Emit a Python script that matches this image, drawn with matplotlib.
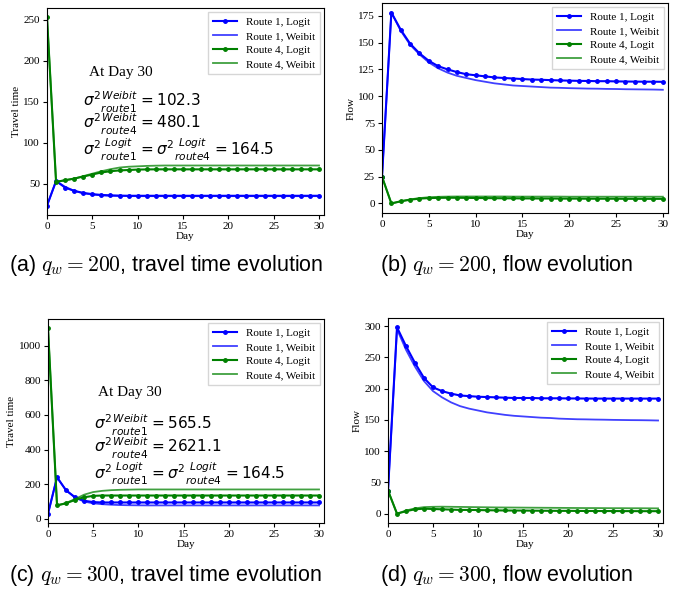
import matplotlib
matplotlib.use('Agg')
from matplotlib import pyplot as plt

days = list(range(31))

# (a) q_w = 200, travel time
tt200_r1_logit = [23, 53, 45, 41, 38.5, 37, 36, 35.5, 35.2, 35, 35, 35, 35, 35, 35, 35,
                  35, 35, 35, 35, 35, 35, 35, 35, 35, 35, 35, 35, 35, 35, 35]
tt200_r1_weibit = [23, 53, 46, 41, 38, 36.5, 35.5, 35, 34.8, 34.6, 34.5, 34.5, 34.5, 34.5, 34.5, 34.5,
                   34.5, 34.5, 34.5, 34.5, 34.5, 34.5, 34.5, 34.5, 34.5, 34.5, 34.5, 34.5, 34.5, 34.5, 34.5]
tt200_r4_logit = [253, 52, 54, 56, 58.5, 61, 63.5, 65, 66, 66.5, 67, 67.2, 67.3, 67.3, 67.3, 67.3,
                  67.3, 67.3, 67.3, 67.3, 67.3, 67.3, 67.3, 67.3, 67.3, 67.3, 67.3, 67.3, 67.3, 67.3, 67.3]
tt200_r4_weibit = [253, 52, 54, 56, 59, 62, 65, 67.5, 69.5, 70.5, 71, 71.5, 71.8, 72, 72, 72,
                   72, 72, 72, 72, 72, 72, 72, 72, 72, 72, 72, 72, 72, 72, 72]

# (b) q_w = 200, flow
fl200_r1_logit = [25, 178, 162, 149, 140, 133, 128, 125, 122.5, 120.5, 119.5, 118.5, 117.5, 117, 116.5, 116,
                  115.5, 115.3, 115, 114.7, 114.5, 114.3, 114.2, 114, 114, 113.8, 113.7, 113.6, 113.5, 113.5, 113.4]
fl200_r1_weibit = [25, 178, 161, 148, 139, 131.5, 126, 122, 119, 117, 115, 113.5, 112, 111, 110, 109.5,
                   109, 108.5, 108, 107.8, 107.5, 107.3, 107.1, 107, 106.8, 106.7, 106.5, 106.4, 106.3, 106.2, 106]
fl200_r4_logit = [25, 0, 2, 3.5, 4.5, 5, 5.2, 5.3, 5.3, 5.2, 5.1, 5, 4.9, 4.8, 4.8, 4.7,
                  4.7, 4.6, 4.6, 4.5, 4.5, 4.5, 4.4, 4.4, 4.4, 4.4, 4.3, 4.3, 4.3, 4.3, 4.3]
fl200_r4_weibit = [25, 0, 2, 3.8, 5, 5.8, 6.2, 6.4, 6.5, 6.5, 6.5, 6.5, 6.5, 6.5, 6.4, 6.4,
                   6.4, 6.4, 6.4, 6.4, 6.3, 6.3, 6.3, 6.3, 6.3, 6.3, 6.3, 6.3, 6.3, 6.3, 6.3]

# (c) q_w = 300, travel time
tt300_r1_logit = [30, 240, 165, 125, 105, 97, 95, 95, 95, 95, 95, 95, 95, 95, 95, 95,
                  95, 95, 95, 95, 95, 95, 95, 95, 95, 95, 95, 95, 95, 95, 95]
tt300_r1_weibit = [30, 240, 165, 122, 100, 90, 85, 82, 80, 79, 78.5, 78, 78, 78, 78, 78,
                   78, 78, 78, 78, 78, 78, 78, 78, 78, 78, 78, 78, 78, 78, 78]
tt300_r4_logit = [1100, 78, 90, 110, 125, 133, 135, 135, 135, 135, 135, 135, 135, 135, 135, 135,
                  135, 135, 135, 135, 135, 135, 135, 135, 135, 135, 135, 135, 135, 135, 135]
tt300_r4_weibit = [1100, 78, 92, 115, 140, 155, 162, 166, 168, 169, 170, 170, 170, 170, 170, 170,
                   170, 170, 170, 170, 170, 170, 170, 170, 170, 170, 170, 170, 170, 170, 170]

# (d) q_w = 300, flow
fl300_r1_logit = [37, 298, 268, 241, 217, 202, 196, 192, 189, 188, 187, 186.5, 186, 185.5, 185, 185,
                  185, 184.5, 184.5, 184.5, 184.3, 184.2, 184.1, 184, 184, 184, 184, 184, 184, 184, 184]
fl300_r1_weibit = [37, 295, 262, 235, 212, 196, 186, 178, 172, 168, 165, 162, 160, 158, 156.5, 155.5,
                   154.5, 153.5, 153, 152, 151.5, 151, 150.8, 150.5, 150.3, 150, 149.8, 149.6, 149.5, 149.3, 149]
fl300_r4_logit = [37, 0, 4, 7, 8, 7.5, 7, 6.5, 6, 6, 5.8, 5.5, 5.3, 5.1, 5, 5,
                  4.8, 4.7, 4.6, 4.5, 4.5, 4.4, 4.3, 4.3, 4.2, 4.2, 4.1, 4.1, 4, 4, 4]
fl300_r4_weibit = [37, 0, 5, 8.5, 10.5, 11, 11.2, 11, 10.8, 10.6, 10.4, 10.2, 10, 9.9, 9.8, 9.7,
                   9.6, 9.5, 9.4, 9.3, 9.2, 9.1, 9, 9, 8.9, 8.8, 8.8, 8.7, 8.7, 8.6, 8.5]

W, H = 693, 589
fig = plt.figure(figsize=(W / 100, H / 100), dpi=100)
serif = 'Liberation Serif'


def add_panel(px, ylabel, r1l, r1w, r4l, r4w):
    # px = (left, top, right, bottom) in pixels
    l, t, r, b = px
    ax = fig.add_axes([l / W, 1 - b / H, (r - l) / W, (b - t) / H])
    ax.plot(days, r1l, '.-', c='blue', ms=5, lw=1.5, label='Route 1, Logit')
    ax.plot(days, r1w, c='blue', lw=1.3, alpha=0.75, label='Route 1, Weibit')
    ax.plot(days, r4l, '.-', c='green', ms=5, lw=1.5, label='Route 4, Logit')
    ax.plot(days, r4w, c='green', lw=1.3, alpha=0.75, label='Route 4, Weibit')
    ax.set_xlim(0, 30.55)
    ax.set_xticks([0, 5, 10, 15, 20, 25, 30])
    ax.set_xlabel('Day', fontsize=8, family=serif, labelpad=1)
    ax.set_ylabel(ylabel, fontsize=8, family=serif, labelpad=2)
    ax.tick_params(labelsize=8, pad=2, length=3)
    for lab in ax.get_xticklabels() + ax.get_yticklabels():
        lab.set_family(serif)
    ax.legend(loc='upper right', prop={'family': serif, 'size': 8}, fancybox=False,
              edgecolor='#cccccc', handlelength=2.2, borderaxespad=0.4, labelspacing=0.4)
    return ax


ax_a = add_panel((47, 8, 324, 215), 'Travel time', tt200_r1_logit, tt200_r1_weibit, tt200_r4_logit, tt200_r4_weibit)
ax_b = add_panel((382, 3, 668, 213), 'Flow', fl200_r1_logit, fl200_r1_weibit, fl200_r4_logit, fl200_r4_weibit)
ax_c = add_panel((48, 319, 324, 523), 'Travel time', tt300_r1_logit, tt300_r1_weibit, tt300_r4_logit, tt300_r4_weibit)
ax_d = add_panel((388, 318, 663, 523), 'Flow', fl300_r1_logit, fl300_r1_weibit, fl300_r4_logit, fl300_r4_weibit)


def sig(sup, sub):
    return r'\sigma^2\genfrac{}{}{0}{}{%s}{%s}' % (sup, sub)


def notes(ax, x0, y0, x1, ys, vals):
    ax.text(x0, y0, 'At Day 30', transform=ax.transAxes, fontsize=11, family=serif, va='center')
    lines = ['$%s = %s$' % (sig('Weibit', 'route1'), vals[0]),
             '$%s = %s$' % (sig('Weibit', 'route4'), vals[1]),
             '$%s = %s = %s$' % (sig('Logit', 'route1'), sig('Logit', 'route4'), vals[2])]
    for y, s in zip(ys, lines):
        ax.text(x1, y, s, transform=ax.transAxes, fontsize=11, va='center',
                math_fontfamily='dejavusans')


notes(ax_a, 0.15, 0.69, 0.13, [0.545, 0.435, 0.315], ['102.3', '480.1', '164.5'])
notes(ax_c, 0.18, 0.64, 0.165, [0.48, 0.367, 0.243], ['565.5', '2621.1', '164.5'])

cap = dict(fontsize=15.5, family='Liberation Sans', va='center', math_fontfamily='cm')
fig.text(9 / W, 1 - 266 / H, r'(a) $q_w = 200$, travel time evolution', **cap)
fig.text(380 / W, 1 - 266 / H, r'(b) $q_w = 200$, flow evolution', **cap)
fig.text(9 / W, 1 - 575 / H, r'(c) $q_w = 300$, travel time evolution', **cap)
fig.text(380 / W, 1 - 575 / H, r'(d) $q_w = 300$, flow evolution', **cap)

fig.savefig('out.png', dpi=100)
